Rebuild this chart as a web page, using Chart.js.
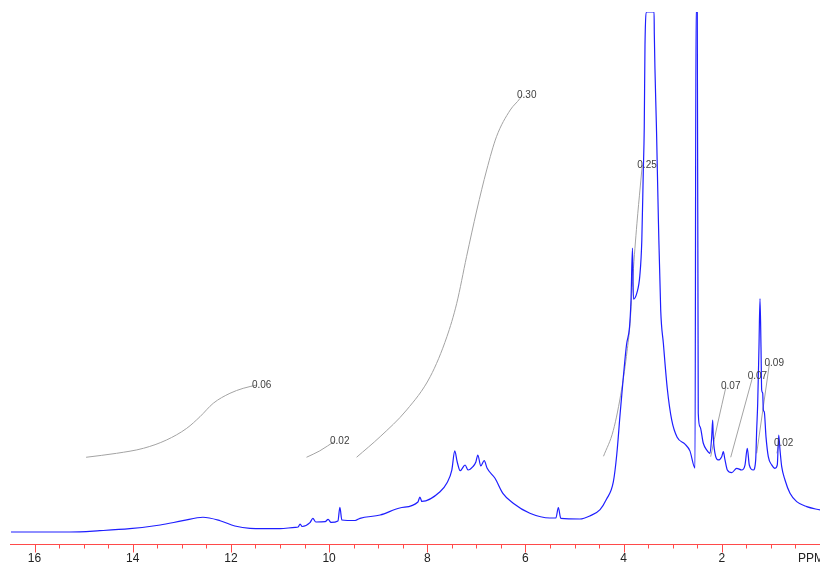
<!DOCTYPE html>
<html>
<head>
<meta charset="utf-8">
<script src="https://cdn.jsdelivr.net/npm/chart.js@4/dist/chart.umd.min.js"></script>
<style>
  html, body { margin: 0; padding: 0; background: #fff; }
  #wrap { width: 820px; height: 565px; }
</style>
</head>
<body>
<div id="wrap"><canvas id="nmr" width="820" height="565"></canvas></div>
<script>
// 1H NMR spectrum, chemical shift (ppm) vs. relative intensity (clipped at 100)
const spectrumPpm = [
  16.48, 15.28, 14.67, 14.06, 13.44, 12.98, 12.57, 12.22, 11.92, 11.61,
  11.00, 10.69, 10.63, 10.59, 10.55, 10.39, 10.33, 10.27, 10.08, 10.02,
  9.96, 9.82, 9.78, 9.74, 9.47, 9.37, 8.96, 8.56, 8.19, 8.15,
  8.11, 7.74, 7.60, 7.50, 7.44, 7.39, 7.33, 7.23, 7.17, 7.07,
  7.01, 6.97, 6.91, 6.84, 6.78, 6.62, 6.46, 6.25, 5.91, 5.50,
  5.38, 5.33, 5.28, 4.89, 4.69, 4.48, 4.35, 4.21, 4.14, 4.07,
  4.01, 3.94, 3.88, 3.85, 3.82, 3.80, 3.73, 3.67, 3.63, 3.60,
  3.58, 3.565, 3.53, 3.38, 3.375, 3.33, 3.29, 3.245, 3.19, 3.11,
  3.02, 2.91, 2.75, 2.65, 2.546, 2.526, 2.50, 2.48, 2.444, 2.377,
  2.308, 2.241, 2.206, 2.186, 2.174, 2.139, 2.072, 2.002, 1.97, 1.935,
  1.888, 1.799, 1.697, 1.595, 1.528, 1.481, 1.44, 1.359, 1.31, 1.29,
  1.269, 1.243, 1.222, 1.202, 1.188, 1.167, 1.155, 1.135, 1.10, 1.053,
  0.984, 0.917, 0.87, 0.841, 0.815, 0.78, 0.713, 0.611, 0.475, 0.271,
  0.0
];
const spectrumIntensity = [
  0.0, 0.0, 0.25, 0.63, 1.35, 2.17, 2.83, 2.17, 1.15, 0.71,
  0.63, 0.9, 0.96, 1.54, 1.06, 1.79, 2.63, 1.92, 1.98, 2.44,
  1.83, 2.12, 4.75, 2.31, 2.21, 2.63, 3.27, 4.62, 5.77, 6.73,
  5.87, 7.75, 9.42, 11.92, 15.58, 13.46, 11.79, 12.88, 11.92, 12.56,
  13.46, 14.81, 12.69, 13.71, 12.25, 10.33, 7.44, 5.52, 3.6, 2.69,
  2.69, 4.71, 2.6, 2.5, 3.08, 4.31, 6.29, 9.62, 14.9, 22.9,
  29.4, 36.1, 39.4, 44.6, 54.6, 44.8, 46.0, 49.3, 56.0, 69.2,
  77.8, 93.7, 100, 100, 95.7, 77.1, 59.2, 42.7, 36.2, 27.5,
  21.5, 18.2, 16.9, 15.6, 12.3, 100, 100, 22.9, 20.25, 17.06,
  15.77, 15.13, 18.33, 21.54, 18.33, 15.13, 13.85, 14.48, 15.44, 13.85,
  11.92, 11.4, 12.25, 11.92, 12.88, 16.1, 12.88, 11.92, 13.85, 19.6,
  24.75, 35.6, 44.9, 35.6, 27.3, 26.7, 23.5, 23.1, 18.3, 14.5,
  12.9, 12.25, 12.9, 18.65, 15.8, 12.56, 10.0, 7.44, 5.83, 4.87,
  4.23
];

// integral curves and their values
const integralLabels = ['0.06', '0.02', '0.30', '0.25', '0.07', '0.07', '0.09', '0.02'];
const integralPpm = [
  [14.95, 14.33, 13.78, 13.31, 12.90, 12.63, 12.36, 12.02, 11.75, 11.47],
  [10.46, 10.19, 9.88],
  [9.44, 8.96, 8.42, 7.94, 7.60, 7.40, 7.20, 6.99, 6.79, 6.59, 6.31, 6.11, 6.07],
  [4.41, 4.21, 4.04, 3.93, 3.87, 3.81, 3.73, 3.66, 3.62],
  [2.227, 2.078, 1.915],
  [1.819, 1.371],
  [1.29, 1.029],
  [0.878, 0.837]
];
const integralValue = [
  [14.37, 15.13, 16.1, 17.7, 19.94, 22.17, 24.75, 26.67, 27.63, 28.27],
  [14.37, 15.6, 17.5],
  [14.37, 18.33, 23.46, 29.87, 37.56, 43.98, 52.94, 61.92, 69.62, 76.02, 81.15, 83.4, 84.04],
  [14.56, 19.54, 27.48, 34.77, 40.06, 49.33, 59.27, 66.54, 70.58],
  [14.48, 21.15, 27.94],
  [14.37, 29.87],
  [15.13, 32.44],
  [15.13, 17.06]
];

// axis ticks
const tickLabels = [16, 14, 12, 10, 8, 6, 4, 2];
const minorStep = 0.5;

function toPoints(xs, ys) {
  return xs.map((x, i) => ({ x: x, y: ys[i] }));
}

const datasets = [{
  label: 'spectrum',
  data: toPoints(spectrumPpm, spectrumIntensity),
  borderColor: 'rgb(30, 30, 255)',
  borderWidth: 1.2,
  pointRadius: 0,
  cubicInterpolationMode: 'monotone'
}];

integralPpm.forEach((xs, i) => {
  datasets.push({
    label: integralLabels[i],
    data: toPoints(xs, integralValue[i]),
    borderColor: '#a3a3a3',
    borderWidth: 1,
    pointRadius: 0,
    cubicInterpolationMode: 'monotone',
    integral: true
  });
});

// draws the red ppm axis and the integral values
const nmrAxis = {
  id: 'nmrAxis',
  afterDraw(chart) {
    const ctx = chart.ctx;
    const xs = chart.scales.x;
    const area = chart.chartArea;
    const axisY = area.bottom + 0.5;

    ctx.save();
    ctx.strokeStyle = '#ff4a4a';
    ctx.lineWidth = 1;
    ctx.beginPath();
    ctx.moveTo(area.left, axisY);
    ctx.lineTo(area.right, axisY);
    for (let t = minorStep; t < xs.max; t += minorStep) {
      const px = Math.round(xs.getPixelForValue(t)) + 0.5;
      const len = tickLabels.includes(t) ? 8 : 4;
      ctx.moveTo(px, axisY);
      ctx.lineTo(px, axisY + len);
    }
    ctx.stroke();

    ctx.fillStyle = '#222';
    ctx.font = '12px Arial, "Liberation Sans", sans-serif';
    ctx.textBaseline = 'middle';
    ctx.textAlign = 'center';
    tickLabels.forEach(t => {
      ctx.fillText(String(t), xs.getPixelForValue(t), axisY + 14);
    });
    ctx.textAlign = 'left';
    ctx.fillText('PPM', xs.getPixelForValue(0.45), axisY + 14);

    ctx.fillStyle = '#404040';
    ctx.font = '10px Arial, "Liberation Sans", sans-serif';
    chart.data.datasets.forEach((ds, i) => {
      if (!ds.integral) return;
      const pts = chart.getDatasetMeta(i).data;
      const end = pts[pts.length - 1];
      ctx.fillText(ds.label, end.x - 5, end.y);
    });
    ctx.restore();
  }
};

new Chart(document.getElementById('nmr'), {
  type: 'line',
  data: { datasets: datasets },
  options: {
    responsive: false,
    animation: false,
    events: [],
    layout: { padding: { left: 10, right: 0, top: 12, bottom: 21 } },
    plugins: { legend: { display: false }, tooltip: { enabled: false } },
    scales: {
      x: { type: 'linear', reverse: true, min: 0, max: 16.5, display: false },
      y: { min: -2.31, max: 100, display: false }
    }
  },
  plugins: [nmrAxis]
});
</script>
</body>
</html>
